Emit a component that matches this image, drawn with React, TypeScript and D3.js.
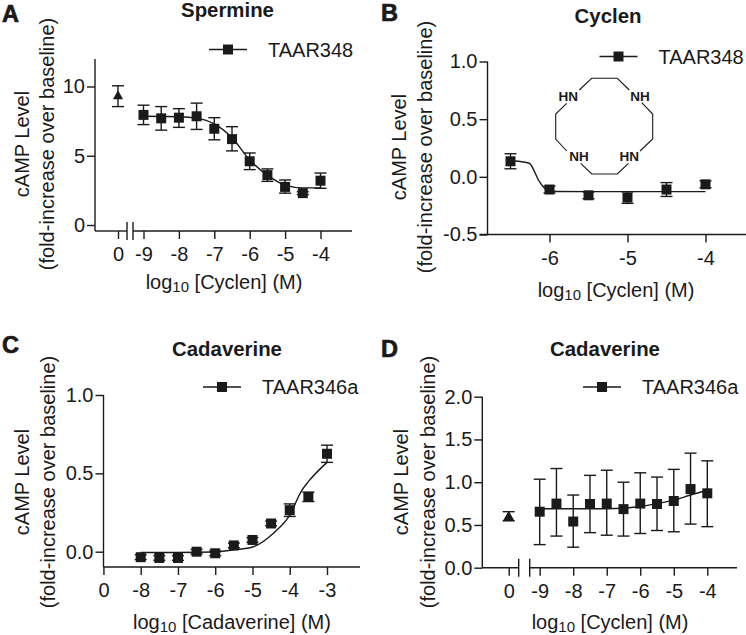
import React, { useEffect, useRef } from 'react';
import * as d3 from 'd3';

const FONT = '"Liberation Sans", Arial, sans-serif';
const INK = '#1a1a1a';

// Panel A
const spermineDoses = [-9, -8.5, -8, -7.5, -7, -6.5, -6, -5.5, -5, -4.5, -4];
const spermineMeans = [7.95, 7.7, 7.75, 7.85, 6.95, 6.2, 4.6, 3.6, 2.75, 2.3, 3.2];
const spermineLow = [7.25, 6.85, 7.05, 6.9, 6.15, 5.35, 4.0, 3.15, 2.3, 2.2, 2.65];
const spermineHigh = [8.65, 8.55, 8.4, 8.8, 7.75, 7.1, 5.2, 4.05, 3.25, 2.4, 3.75];
const spermineFitX = [-9, -8, -7.5, -7, -6.5, -6, -5.5, -5, -4.5, -4];
const spermineFitY = [7.85, 7.82, 7.72, 7.3, 6.3, 4.7, 3.6, 2.88, 2.68, 2.68];
const spermineZero = { mean: 9.3, low: 8.55, high: 10.05 };

// Panel B
const cyclenDoses = [-6.5, -6, -5.5, -5, -4.5, -4];
const cyclenMeans = [0.135, -0.11, -0.16, -0.18, -0.11, -0.065];
const cyclenLow = [0.07, -0.14, -0.19, -0.23, -0.17, -0.095];
const cyclenHigh = [0.2, -0.08, -0.13, -0.13, -0.05, -0.035];
const cyclenFitX = [-6.5, -6.4, -6.26, -6.13, -6.04, -5.91, -5.5, -4];
const cyclenFitY = [0.14, 0.135, 0.118, -0.04, -0.11, -0.127, -0.128, -0.128];

// Panel C
const cadaverineDoses = [-8, -7.5, -7, -6.5, -6, -5.5, -5, -4.5, -4, -3.5, -3];
const cadaverineMeans = [-0.035, -0.04, -0.04, 0, -0.01, 0.04, 0.075, 0.18, 0.265, 0.35, 0.625];
const cadaverineLow = [-0.05, -0.055, -0.055, -0.015, -0.025, 0.025, 0.06, 0.165, 0.225, 0.32, 0.57];
const cadaverineHigh = [-0.02, -0.025, -0.025, 0.015, 0.005, 0.055, 0.09, 0.195, 0.305, 0.38, 0.68];
const cadaverineFitX = [-8, -7, -6, -5.5, -5, -4.43, -4, -3.68, -3.5, -3];
const cadaverineFitY = [-0.005, -0.005, -0.002, 0.012, 0.03, 0.12, 0.234, 0.39, 0.447, 0.57];

// Panel D
const cyclenDDoses = [-9, -8.5, -8, -7.5, -7, -6.5, -6, -5.5, -5, -4.5, -4];
const cyclenDMeans = [0.655, 0.75, 0.54, 0.745, 0.75, 0.685, 0.75, 0.745, 0.78, 0.92, 0.87];
const cyclenDLow = [0.27, 0.37, 0.24, 0.41, 0.38, 0.37, 0.4, 0.435, 0.42, 0.51, 0.48];
const cyclenDHigh = [1.035, 1.16, 0.85, 1.08, 1.14, 1.0, 1.11, 1.06, 1.15, 1.34, 1.25];
const cyclenDFitX = [-9, -7, -6.5, -6, -5.5, -5, -4.5, -4];
const cyclenDFitY = [0.69, 0.69, 0.695, 0.715, 0.75, 0.79, 0.85, 0.906];
const cyclenDZero = { mean: 0.585, low: 0.55, high: 0.655 };

const panels = [
  {
    letter: 'A', letterX: 2, letterY: 22,
    title: 'Spermine', titleX: 227.5, titleY: 17,
    series: 'TAAR348', legendX: 209, legendY: 49.5,
    doses: spermineDoses, means: spermineMeans, low: spermineLow, high: spermineHigh,
    fitX: spermineFitX, fitY: spermineFitY, zero: spermineZero, triangleSize: 45,
    xRef: [-9, -4], xPx: [143.5, 320.5], zeroX: 118,
    xTicks: [-9, -8, -7, -6, -5, -4],
    yRef: [0, 10], yPx: [225, 86.5], yTicks: [0, 5, 10], yFormat: 'd',
    axisX: 95, axisY: 231, axisTop: 59,
    xSegments: [[95, 127], [133, 352]], breaks: [127, 133],
    label: '[Cyclen] (M)', labelX: 224, labelY: 289,
    yLine1: 29, yLine2: 54, yLabelMid: 144,
  },
  {
    letter: 'B', letterX: 381, letterY: 21,
    title: 'Cyclen', titleX: 608, titleY: 23,
    series: 'TAAR348', legendX: 599.5, legendY: 56.5,
    doses: cyclenDoses, means: cyclenMeans, low: cyclenLow, high: cyclenHigh,
    fitX: cyclenFitX, fitY: cyclenFitY, zero: null, triangleSize: 0,
    xRef: [-6, -4], xPx: [549.5, 705.5], zeroX: 0,
    xTicks: [-6, -5, -4],
    yRef: [-0.5, 1], yPx: [234.5, 61.5], yTicks: [-0.5, 0, 0.5, 1], yFormat: '.1f',
    axisX: 487.5, axisY: 234.5, axisTop: 61.5,
    xSegments: [[479.5, 746]], breaks: [],
    label: '[Cyclen] (M)', labelX: 616, labelY: 297,
    yLine1: 406, yLine2: 432, yLabelMid: 147,
  },
  {
    letter: 'C', letterX: 2, letterY: 353,
    title: 'Cadaverine', titleX: 227, titleY: 356,
    series: 'TAAR346a', legendX: 203, legendY: 387,
    doses: cadaverineDoses, means: cadaverineMeans, low: cadaverineLow, high: cadaverineHigh,
    fitX: cadaverineFitX, fitY: cadaverineFitY, zero: null, triangleSize: 0,
    xRef: [-8, -3], xPx: [140.7, 327], zeroX: 0,
    xTicks: [-9, -8, -7, -6, -5, -4, -3],
    yRef: [0, 1], yPx: [551.7, 395], yTicks: [0, 0.5, 1], yFormat: '.1f',
    axisX: 103.5, axisY: 567, axisTop: 395,
    xSegments: [[103.5, 360]], breaks: [],
    label: '[Cadaverine] (M)', labelX: 232, labelY: 629,
    yLine1: 29, yLine2: 55, yLabelMid: 482,
  },
  {
    letter: 'D', letterX: 381, letterY: 357,
    title: 'Cadaverine', titleX: 605, titleY: 356,
    series: 'TAAR346a', legendX: 583, legendY: 387,
    doses: cyclenDDoses, means: cyclenDMeans, low: cyclenDLow, high: cyclenDHigh,
    fitX: cyclenDFitX, fitY: cyclenDFitY, zero: cyclenDZero, triangleSize: 62,
    xRef: [-9, -4], xPx: [539.7, 707.3], zeroX: 508.7,
    xTicks: [-9, -8, -7, -6, -5, -4],
    yRef: [0, 2], yPx: [567.7, 396.7], yTicks: [0, 0.5, 1, 1.5, 2], yFormat: '.1f',
    axisX: 482.3, axisY: 567.7, axisTop: 396.7,
    xSegments: [[482.3, 518.7], [529.7, 737]], breaks: [518.7, 529.7],
    label: '[Cyclen] (M)', labelX: 610, labelY: 629,
    yLine1: 408, yLine2: 435, yLabelMid: 482,
  },
];

// cyclen ring, bonds broken where the N labels sit
const ringChains = [
  [[579.3, 90], [591.7, 78.3], [617.3, 78.3], [629.3, 90]],
  [[641.7, 102.7], [652.7, 114], [652.7, 139], [640, 151]],
  [[628.5, 163.3], [617.3, 174], [591.7, 174], [580.7, 163.3]],
  [[566.7, 151], [555.7, 139], [555.7, 114], [566.7, 103.3]],
];
const ringLabels = [
  { text: 'HN', x: 568.3, y: 101 },
  { text: 'NH', x: 640, y: 101 },
  { text: 'NH', x: 579, y: 161 },
  { text: 'HN', x: 629.3, y: 161 },
];

const square = d3.symbol().type(d3.symbolSquare).size(100);

function drawPanel(root: any, p: any) {
  const x = d3.scaleLinear().domain(p.xRef).range(p.xPx);
  const y = d3.scaleLinear().domain(p.yRef).range(p.yPx);
  const xZero = d3.scaleLinear().domain([0, 1]).range([p.zeroX, p.zeroX + 1]);
  const g = root.append('g');

  // axes
  const yAxis = d3.axisLeft(y).tickValues(p.yTicks).tickSize(8).tickPadding(2)
    .tickFormat((d: any) => d3.format(p.yFormat)(d).replace('\u2212', '-'));
  const xAxis = d3.axisBottom(x).tickValues(p.xTicks).tickSize(8).tickPadding(8)
    .tickFormat((d: any) => (p.letter === 'C' && d === -9 ? '0' : String(d)));

  const styleAxis = (a: any) => {
    a.select('.domain').remove();
    a.selectAll('line').attr('stroke', INK).attr('stroke-width', 1.4);
    a.selectAll('text').attr('fill', INK).attr('font-size', 20).attr('font-family', FONT);
  };
  g.append('g').attr('transform', `translate(${p.axisX},0)`).call(yAxis).call(styleAxis);
  g.append('g').attr('transform', `translate(0,${p.axisY})`).call(xAxis).call(styleAxis);
  if (p.zero) {
    const zeroAxis = d3.axisBottom(xZero).tickValues([0]).tickSize(8).tickPadding(8).tickFormat(() => '0');
    g.append('g').attr('transform', `translate(0,${p.axisY})`).call(zeroAxis).call(styleAxis);
  }

  const rule = (x1: number, y1: number, x2: number, y2: number) =>
    g.append('line').attr('x1', x1).attr('y1', y1).attr('x2', x2).attr('y2', y2)
      .attr('stroke', INK).attr('stroke-width', 1.4);
  rule(p.axisX, p.axisTop, p.axisX, p.axisY);
  p.xSegments.forEach((s: number[]) => rule(s[0], p.axisY, s[1], p.axisY));
  p.breaks.forEach((b: number) => rule(b, p.axisY - 9, b, p.axisY + 9));

  // fit line
  const fit = d3.line<number>().x((d) => x(d)).y((_, i) => y(p.fitY[i])).curve(d3.curveMonotoneX);
  g.append('path').attr('d', fit(p.fitX)).attr('fill', 'none').attr('stroke', INK).attr('stroke-width', 1.4);

  // error bars + squares
  p.doses.forEach((d: number, i: number) => {
    const px = x(d);
    rule(px, y(p.low[i]), px, y(p.high[i]));
    rule(px - 6, y(p.low[i]), px + 6, y(p.low[i]));
    rule(px - 6, y(p.high[i]), px + 6, y(p.high[i]));
    g.append('path').attr('d', square()).attr('fill', INK)
      .attr('transform', `translate(${px},${y(p.means[i])})`);
  });

  // baseline point at dose 0
  if (p.zero) {
    const px = xZero(0);
    const triangle = d3.symbol().type(d3.symbolTriangle).size(p.triangleSize);
    rule(px, y(p.zero.low), px, y(p.zero.high));
    rule(px - 6, y(p.zero.low), px + 6, y(p.zero.low));
    rule(px - 6, y(p.zero.high), px + 6, y(p.zero.high));
    g.append('path').attr('d', triangle()).attr('fill', INK)
      .attr('transform', `translate(${px},${y(p.zero.mean)})`);
  }

  const text = (tx: number, ty: number, s: string, size: number, weight = 'normal', anchor = 'start') =>
    g.append('text').attr('x', tx).attr('y', ty).attr('font-size', size).attr('font-weight', weight)
      .attr('font-family', FONT).attr('fill', INK).attr('text-anchor', anchor).text(s);

  text(p.letterX, p.letterY, p.letter, 23.5, 'bold').attr('stroke', INK).attr('stroke-width', 0.7);
  text(p.titleX, p.titleY, p.title, 20.4, 'bold', 'middle');

  // legend
  rule(p.legendX, p.legendY, p.legendX + 38, p.legendY);
  g.append('path').attr('d', square()).attr('fill', INK)
    .attr('transform', `translate(${p.legendX + 19},${p.legendY})`);
  text(p.legendX + 59, p.legendY + 7.2, p.series, 20);

  // x label with subscript
  const xl = text(p.labelX, p.labelY, '', 20, 'normal', 'middle');
  xl.append('tspan').text('log');
  xl.append('tspan').attr('font-size', 15).attr('dy', 2.8).text('10');
  xl.append('tspan').attr('dy', -2.8).text(' ' + p.label);

  // y label, two rotated lines
  [['cAMP Level', p.yLine1], ['(fold-increase over baseline)', p.yLine2]].forEach(([s, bx]: any) => {
    g.append('text')
      .attr('transform', `translate(${bx},${p.yLabelMid}) rotate(-90)`)
      .attr('text-anchor', 'middle').attr('font-size', 20).attr('font-family', FONT)
      .attr('fill', INK).text(s);
  });
}

function drawRing(root: any) {
  const g = root.append('g');
  const line = d3.line();
  ringChains.forEach((c) => {
    g.append('path').attr('d', line(c as any)).attr('fill', 'none').attr('stroke', INK).attr('stroke-width', 1.1);
  });
  ringLabels.forEach((l) => {
    g.append('text').attr('x', l.x).attr('y', l.y).attr('text-anchor', 'middle')
      .attr('font-size', 13.5).attr('font-weight', 'bold').attr('font-family', FONT)
      .attr('fill', INK).text(l.text);
  });
}

const App: React.FC = () => {
  const svgRef = useRef<SVGSVGElement>(null);

  useEffect(() => {
    if (!svgRef.current) return;
    const svg = d3.select(svgRef.current);
    svg.selectAll('*').remove();
    panels.forEach((p) => drawPanel(svg, p));
    drawRing(svg);
  }, []);

  return (
    <svg
      ref={svgRef}
      width={746}
      height={635}
      style={{ position: 'absolute', left: 0, top: 0, background: '#fff' }}
    />
  );
};

export default App;
